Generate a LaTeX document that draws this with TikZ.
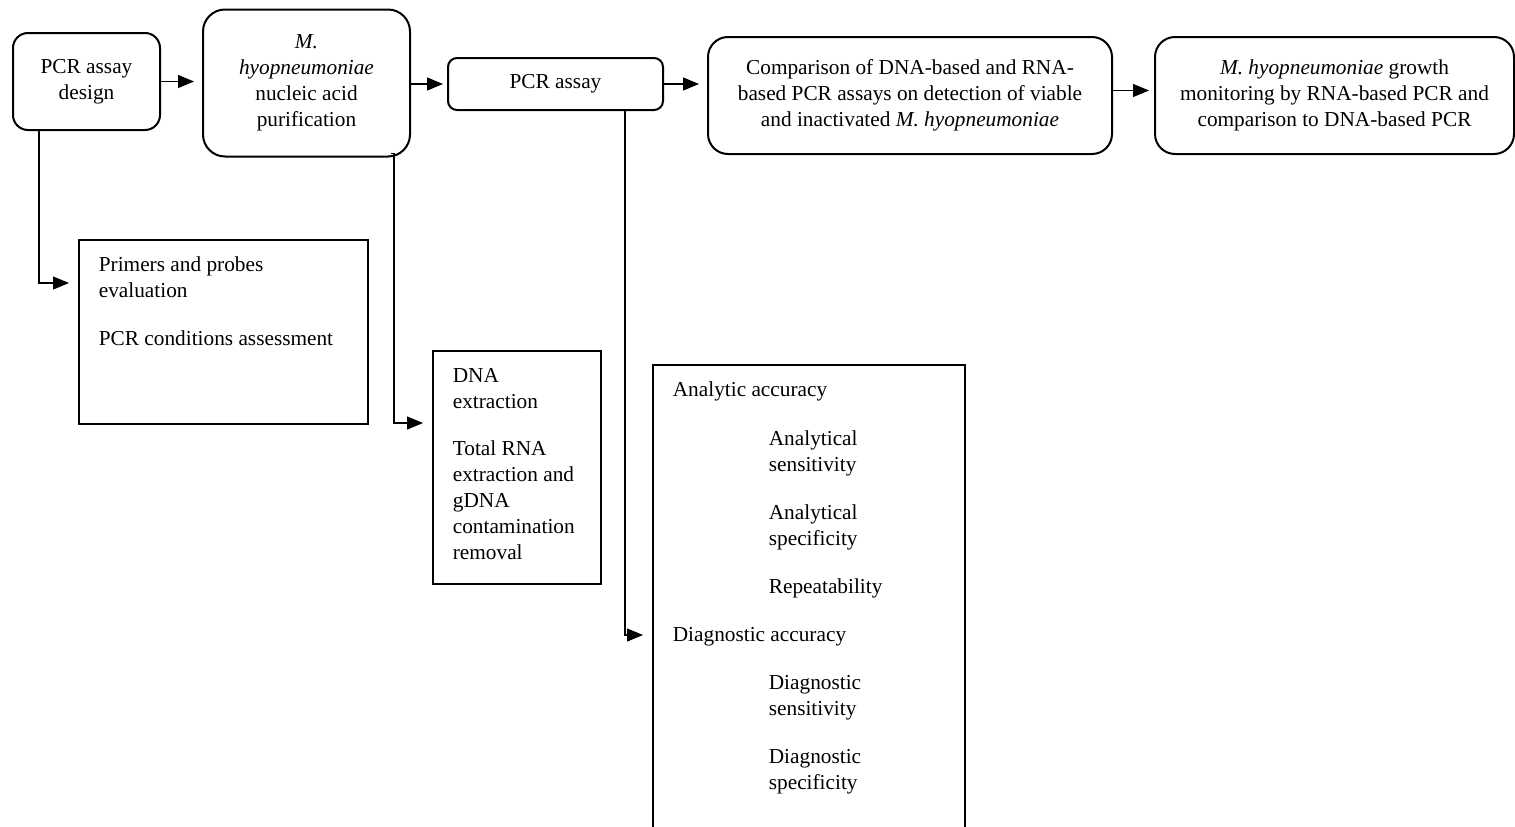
\documentclass[tikz,border=0pt]{standalone}
\usepackage{fontspec}
\setmainfont{Liberation Serif}
\usetikzlibrary{arrows.meta}
\newcommand\dfont{\fontsize{21.3}{26}\selectfont}
\newcommand\ind{\hspace*{96pt}}
\begin{document}
\begin{tikzpicture}[x=1pt,y=-1pt,
  rbox/.style={draw, line width=2pt, align=center, inner sep=0pt, font=\dfont},
  sqbox/.style={draw, line width=1.7pt, inner sep=0pt, anchor=north west, font=\dfont},
  conn/.style={line width=1.1pt, -{Triangle[length=16pt,width=13pt]}},
]
\useasboundingbox (0,0) rectangle (1515,827);
\clip (0,0) rectangle (1515,827);

% top row
\node[rbox, rounded corners=15pt, minimum width=147pt, minimum height=97pt] (A) at (86.5,81.5) {PCR assay\\design};
\node[rbox, rounded corners=22pt, minimum width=207pt, minimum height=147pt] (B) at (306.5,83) {\textit{M.}\\\textit{hyopneumoniae}\\nucleic acid\\purification};
\node[rbox, rounded corners=9pt, minimum width=215pt, minimum height=52pt] (C) at (555.5,84) {PCR assay};
\node[rbox, rounded corners=20pt, minimum width=404pt, minimum height=117pt] (D) at (910,95.5) {Comparison of DNA-based and RNA-\\based PCR assays on detection of viable\\and inactivated \textit{M. hyopneumoniae}};
\node[rbox, rounded corners=20pt, minimum width=359pt, minimum height=117pt] (E) at (1334.5,95.5) {\textit{M. hyopneumoniae} growth\\monitoring by RNA-based PCR and\\comparison to DNA-based PCR};

% lower boxes
\node[sqbox] (F) at (78,239) {\parbox[c][184pt][t]{289pt}{\raggedright\leftskip=20pt
  \vspace*{13pt}\strut Primers and probes\\evaluation\\[22pt]PCR conditions assessment}};
\node[sqbox] (G) at (432,350) {\parbox[c][233pt][t]{168pt}{\raggedright\leftskip=20pt
  \vspace*{13pt}\strut DNA\\extraction\\[21pt]Total RNA\\extraction and\\gDNA\\contamination\\removal}};
\node[sqbox] (H) at (652,364) {\parbox[c][500pt][t]{312pt}{\raggedright\leftskip=20pt
  \vspace*{13pt}\strut Analytic accuracy\\[23pt]
  \ind Analytical\\\ind sensitivity\\[22pt]
  \ind Analytical\\\ind specificity\\[22pt]
  \ind Repeatability\\[22pt]
  Diagnostic accuracy\\[22pt]
  \ind Diagnostic\\\ind sensitivity\\[22pt]
  \ind Diagnostic\\\ind specificity}};

% horizontal connectors
\draw[conn] (A.east) -- ([xshift=-8pt]B.west |- A.east);
\draw[conn] (B.east |- C.west) -- ([xshift=-4pt]C.west);
\draw[conn] (C.east) -- ([xshift=-8pt]D.west |- C.east);
\draw[conn] ([yshift=5pt]D.east) -- ([xshift=-5pt,yshift=5pt]E.west);

% vertical connectors
\draw[conn] ([xshift=27pt]A.south west) |- ([xshift=-9pt,yshift=-44pt]F.north west);
\coordinate (bt) at ([xshift=-17pt,yshift=4pt]B.south east);
\draw[conn] ([xshift=-3pt]bt) -- (bt) |- ([xshift=-9pt,yshift=-73pt]G.north west);
\draw[conn] ([xshift=-39pt]C.south east) |- ([xshift=-9pt,yshift=-271pt]H.north west);
\end{tikzpicture}
\end{document}
